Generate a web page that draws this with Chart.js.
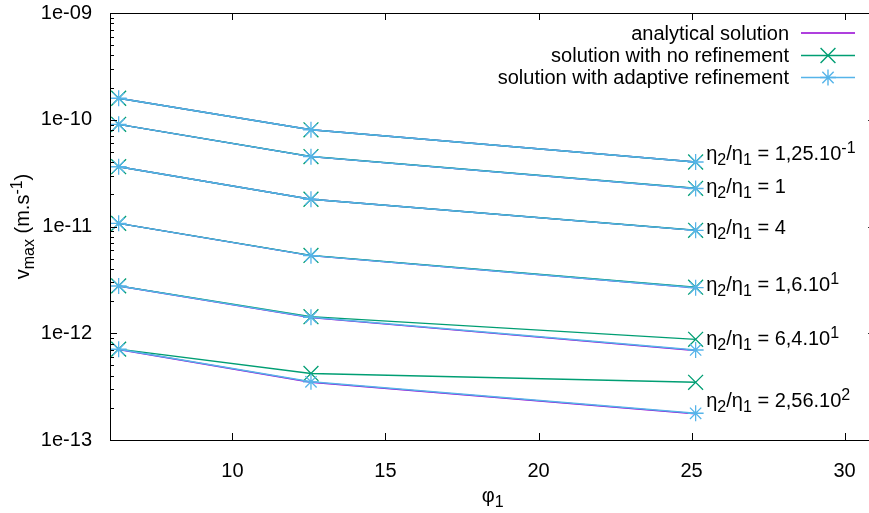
<!DOCTYPE html>
<html>
<head>
<meta charset="utf-8">
<script src="https://cdn.jsdelivr.net/npm/chart.js@4/dist/chart.umd.min.js"></script>
<style>
html, body { margin: 0; padding: 0; overflow: hidden; background: #fff; }
canvas { display: block; }
</style>
</head>
<body>
<canvas id="simChart" width="887" height="513"></canvas>
<script>
// phi_1 values (2pi, 4pi, 8pi)
const phi1 = [6.283, 12.566, 25.133];

// one row per viscosity ratio, top to bottom: 0.125, 1, 4, 16, 64, 256
const analytical = [
  [1.59e-10, 8.05e-11, 4.02e-11],
  [9.06e-11, 4.51e-11, 2.27e-11],
  [3.63e-11, 1.80e-11, 9.20e-12],
  [1.07e-11, 5.33e-12, 2.67e-12],
  [2.77e-12, 1.40e-12, 6.90e-13],
  [7.05e-13, 3.48e-13, 1.76e-13]
];
const noRefinement = [
  [1.59e-10, 8.05e-11, 4.02e-11],
  [9.06e-11, 4.52e-11, 2.28e-11],
  [3.63e-11, 1.80e-11, 9.22e-12],
  [1.07e-11, 5.36e-12, 2.70e-12],
  [2.78e-12, 1.43e-12, 8.77e-13],
  [7.10e-13, 4.20e-13, 3.47e-13]
];
const adaptiveRefinement = [
  [1.59e-10, 8.05e-11, 4.02e-11],
  [9.06e-11, 4.51e-11, 2.27e-11],
  [3.63e-11, 1.80e-11, 9.20e-12],
  [1.07e-11, 5.33e-12, 2.67e-12],
  [2.77e-12, 1.41e-12, 6.97e-13],
  [7.08e-13, 3.51e-13, 1.78e-13]
];

// ratio labels: [text, 0 normal / -1 subscript / 1 superscript]
const ratioLabels = [
  [['η',0],['2',-1],['/η',0],['1',-1],[' = 1,25.10',0],['-1',1]],
  [['η',0],['2',-1],['/η',0],['1',-1],[' = 1',0]],
  [['η',0],['2',-1],['/η',0],['1',-1],[' = 4',0]],
  [['η',0],['2',-1],['/η',0],['1',-1],[' = 1,6.10',0],['1',1]],
  [['η',0],['2',-1],['/η',0],['1',-1],[' = 6,4.10',0],['1',1]],
  [['η',0],['2',-1],['/η',0],['1',-1],[' = 2,56.10',0],['2',1]]
];
const labelX = 25.48;
const labelY = [4.88e-11, 2.39e-11, 9.8e-12, 2.92e-12, 9.1e-13, 2.37e-13];

const xTicks = [10, 15, 20, 25, 30];
const yTicks = [1e-13, 1e-12, 1e-11, 1e-10, 1e-9];
const yTickLabels = ['1e-13', '1e-12', '1e-11', '1e-10', '1e-09'];

const legendNames = ['analytical solution', 'solution with no refinement', 'solution with adaptive refinement'];
const colors = ['#9400d3', '#009e73', '#56b4e9'];

const FONT = '"Liberation Sans", Arial, sans-serif';

function rows(values, color, style, radius, order) {
  return values.map(v => ({
    data: v.map((y, i) => ({ x: phi1[i], y: y })),
    borderColor: color,
    backgroundColor: color,
    borderWidth: 1.4,
    pointStyle: style,
    pointRadius: radius,
    pointBorderWidth: 1.3,
    pointBorderColor: color,
    pointHoverRadius: radius,
    fill: false,
    tension: 0,
    order: order
  }));
}

function drawRich(ctx, parts, x, y) {
  for (const [t, k] of parts) {
    ctx.font = (k === 0 ? 20 : 16) + 'px ' + FONT;
    const dy = k === -1 ? 5 : (k === 1 ? -7 : 0);
    ctx.fillText(t, x, y + dy);
    x += ctx.measureText(t).width;
  }
  return x;
}

function richWidth(ctx, parts) {
  let w = 0;
  for (const [t, k] of parts) {
    ctx.font = (k === 0 ? 20 : 16) + 'px ' + FONT;
    w += ctx.measureText(t).width;
  }
  return w;
}

const decor = {
  id: 'decor',
  afterDraw(chart) {
    const ctx = chart.ctx;
    const xs = chart.scales.x, ys = chart.scales.y;
    const { left, right, top, bottom } = chart.chartArea;
    ctx.save();
    ctx.strokeStyle = '#000';
    ctx.lineWidth = 1;
    ctx.strokeRect(Math.round(left) + 0.5, Math.round(top) + 0.5, Math.round(right - left), Math.round(bottom - top));

    ctx.beginPath();
    xTicks.forEach(v => {
      const px = Math.round(xs.getPixelForValue(v)) + 0.5;
      ctx.moveTo(px, bottom); ctx.lineTo(px, bottom - 7);
      ctx.moveTo(px, top); ctx.lineTo(px, top + 7);
    });
    yTicks.forEach(v => {
      const py = Math.round(ys.getPixelForValue(v)) + 0.5;
      ctx.moveTo(left, py); ctx.lineTo(left + 7, py);
      ctx.moveTo(right, py); ctx.lineTo(right - 7, py);
    });
    for (let d = 0; d < yTicks.length - 1; d++) {
      for (let m = 2; m <= 9; m++) {
        const py = Math.round(ys.getPixelForValue(m * yTicks[d])) + 0.5;
        ctx.moveTo(left, py); ctx.lineTo(left + 4, py);
        ctx.moveTo(right, py); ctx.lineTo(right - 4, py);
      }
    }
    ctx.stroke();

    // ratio labels
    ctx.fillStyle = '#000';
    ctx.textBaseline = 'alphabetic';
    ctx.textAlign = 'left';
    ratioLabels.forEach((parts, i) => {
      drawRich(ctx, parts, xs.getPixelForValue(labelX), ys.getPixelForValue(labelY[i]) + 7);
    });

    // axis titles
    const xt = [['φ', 0], ['1', -1]];
    drawRich(ctx, xt, (left + right) / 2 - richWidth(ctx, xt) / 2, 502);
    const yt = [['v', 0], ['max', -1], [' (m.s', 0], ['-1', 1], [')', 0]];
    ctx.save();
    ctx.translate(29, (top + bottom) / 2);
    ctx.rotate(-Math.PI / 2);
    drawRich(ctx, yt, -richWidth(ctx, yt) / 2, 0);
    ctx.restore();

    // legend (gnuplot style: text right, sample on the right)
    const rowsY = [33, 55.5, 77.5];
    ctx.font = '20px ' + FONT;
    ctx.textAlign = 'right';
    ctx.textBaseline = 'middle';
    legendNames.forEach((name, i) => {
      const y = rowsY[i];
      ctx.fillStyle = '#000';
      ctx.fillText(name, 789, y + 1);
      ctx.strokeStyle = colors[i];
      ctx.lineWidth = 1.4;
      ctx.beginPath();
      ctx.moveTo(801, y); ctx.lineTo(855, y);
      ctx.stroke();
      if (i > 0) {
        Chart.helpers.drawPoint(ctx, {
          pointStyle: i === 1 ? 'crossRot' : 'star',
          radius: i === 1 ? 10.5 : 8,
          borderWidth: 1.3
        }, 828, y);
      }
    });
    ctx.restore();
  }
};

const ctx = document.getElementById('simChart').getContext('2d');

const simChart = new Chart(ctx, {
  type: 'line',
  data: {
    datasets: [
      ...rows(analytical, colors[0], false, 0, 3),
      ...rows(noRefinement, colors[1], 'crossRot', 10.5, 2),
      ...rows(adaptiveRefinement, colors[2], 'star', 8, 1)
    ]
  },
  options: {
    responsive: false,
    animation: false,
    devicePixelRatio: 1,
    events: [],
    layout: { padding: { top: 13, right: 3, left: 0, bottom: 0 } },
    plugins: { legend: { display: false }, tooltip: { enabled: false } },
    scales: {
      x: {
        type: 'linear',
        min: 6,
        max: 31,
        grid: { display: false },
        border: { display: false },
        afterBuildTicks: s => { s.ticks = xTicks.map(v => ({ value: v })); },
        afterFit: s => { s.height = 73; s.paddingLeft = 0; s.paddingRight = 0; },
        ticks: {
          padding: 11,
          maxRotation: 0,
          color: '#000',
          font: { family: FONT, size: 20 }
        }
      },
      y: {
        type: 'logarithmic',
        min: 1e-13,
        max: 1e-9,
        grid: { display: false },
        border: { display: false },
        afterBuildTicks: s => { s.ticks = yTicks.map(v => ({ value: v })); },
        afterFit: s => { s.width = 110; s.paddingTop = 0; s.paddingBottom = 0; },
        ticks: {
          padding: 10,
          color: '#000',
          font: { family: FONT, size: 20 },
          callback: (v, i) => yTickLabels[i]
        }
      }
    }
  },
  plugins: [decor]
});
</script>
</body>
</html>
